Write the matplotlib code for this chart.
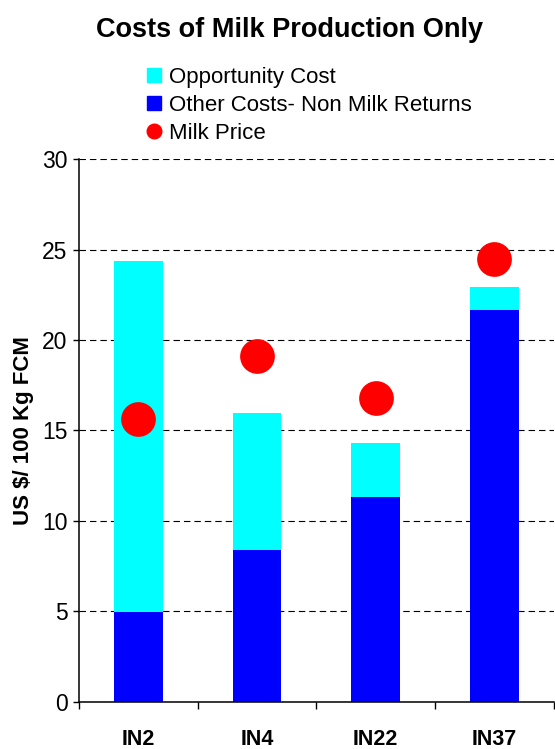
import numpy as np
import matplotlib
matplotlib.use("Agg")
import matplotlib.pyplot as plt
from matplotlib.lines import Line2D

plt.rcParams['font.family'] = ['Liberation Sans', 'DejaVu Sans']

# chart data
farms = ['IN2', 'IN4', 'IN22', 'IN37']
other_costs = [4.95, 8.4, 11.33, 21.68]
opportunity_cost = [19.4, 7.55, 3.0, 1.27]
milk_price = [15.65, 19.1, 16.82, 24.5]

fig = plt.figure(figsize=(5.55, 7.49), dpi=100)
ax = fig.add_axes([79 / 555, 0.0632, 0.8553, 0.7241])

x = np.arange(len(farms))
ax.bar(x, other_costs, width=0.41, color='#0000FF', zorder=2)
ax.bar(x, opportunity_cost, width=0.41, bottom=other_costs, color='#00FFFF', zorder=2)
ax.plot(x, milk_price, 'o', color='#FF0000', markersize=25, markeredgewidth=0, zorder=3)

ax.set_xlim(-0.5, 3.5)
ax.set_ylim(0, 30)
ax.set_yticks(np.arange(0, 31, 5))
ax.yaxis.grid(True, color='black', linestyle=(0, (5.8, 3.6)), linewidth=0.8, zorder=1)
ax.set_axisbelow(True)

# category labels at centres, tick marks at category borders
ax.set_xticks(x)
ax.set_xticklabels(farms, fontsize=15.5, fontweight='bold')
ax.set_xticks(np.arange(-0.5, 3.6, 1), minor=True)
ax.tick_params(axis='x', which='major', length=0, pad=20)
ax.tick_params(axis='x', which='minor', length=5, width=1, direction='out')
ax.tick_params(axis='y', length=4.3, width=1, direction='out', labelsize=16.5, pad=4)

for side in ['top', 'right']:
    ax.spines[side].set_visible(False)
for side in ['left', 'bottom']:
    ax.spines[side].set_linewidth(1.1)

ax.set_ylabel('US $/ 100 Kg FCM', fontsize=16, fontweight='bold', labelpad=6)

fig.text(0.522, 0.96, 'Costs of Milk Production Only', ha='center', va='center',
         fontsize=19.5, fontweight='bold')

handles = [
    Line2D([], [], marker='s', linestyle='none', color='#00FFFF', markersize=9.4),
    Line2D([], [], marker='s', linestyle='none', color='#0000FF', markersize=9.4),
    Line2D([], [], marker='o', linestyle='none', color='#FF0000', markersize=10.5),
]
labels = ['Opportunity Cost', 'Other Costs- Non Milk Returns', 'Milk Price']
fig.legend(handles, labels, loc='upper left', bbox_to_anchor=(143 / 555, 1 - 67 / 749),
           frameon=False, fontsize=16, handlelength=1.0, handletextpad=0.15,
           labelspacing=0.32, borderpad=0, borderaxespad=0)

fig.savefig('out.png', dpi=100)
